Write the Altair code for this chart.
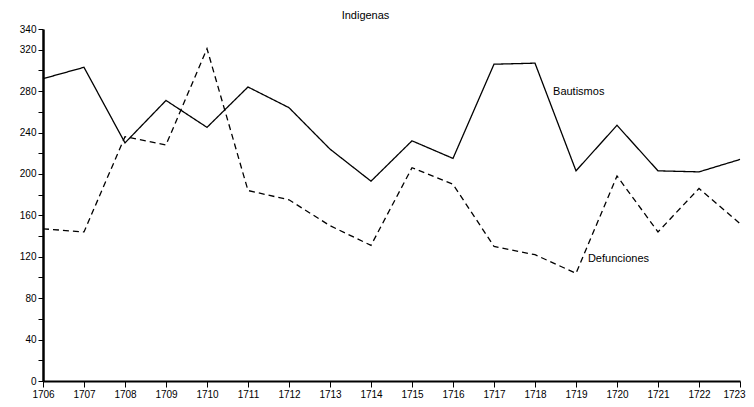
import altair as alt
import pandas as pd

years = list(range(1706, 1724))
bautismos = [292, 303, 230, 271, 245, 284, 264, 224, 193, 232, 215, 306, 307, 203, 247, 203, 202, 214]
defunciones = [147, 144, 236, 228, 321, 184, 175, 150, 131, 206, 190, 130, 122, 104, 198, 144, 186, 152]
y_ticks = list(range(0, 341, 20))
y_labels = [0, 40, 80, 120, 160, 200, 240, 280, 320, 340]

df = pd.DataFrame({
    "year": years * 2,
    "value": bautismos + defunciones,
    "serie": ["Bautismos"] * len(years) + ["Defunciones"] * len(years),
})

labels = pd.DataFrame({
    "year": [1718.44, 1719.29],
    "value": [279, 118],
    "text": ["Bautismos", "Defunciones"],
})

FONT = "Liberation Sans"
label_list = "[" + ",".join(str(v) for v in y_labels) + "]"

x = alt.X("year:Q", scale=alt.Scale(domain=[1706, 1723], nice=False, zero=False),
          axis=alt.Axis(values=years, format="d", title=None, grid=False, tickCount=100,
                        domainColor="black", domainWidth=2, tickColor="black",
                        tickSize=6, tickWidth=1, labelColor="black", labelFontSize=10,
                        labelFont=FONT, labelPadding=2, labelFlush=False,
                        labelOverlap=False,
                        labelOffset={"condition": {"test": "datum.value == 1723", "value": -6},
                                     "value": 0}))
y = alt.Y("value:Q", scale=alt.Scale(domain=[0, 340], nice=False),
          axis=alt.Axis(values=y_ticks, title=None, grid=False, tickCount=100,
                        labelExpr=f"indexof({label_list}, round(datum.value)) >= 0 ? datum.label : ''",
                        domainColor="black", domainWidth=2.5, tickColor="black",
                        tickSize=5, tickWidth=1, labelColor="black", labelFontSize=10,
                        labelFont=FONT, labelPadding=2, labelOverlap=False,
                        labelFlush=False, labelBound=False))

lines = alt.Chart(df).mark_line(color="black", strokeWidth=1.3).encode(
    x=x, y=y,
    detail="serie:N",
    strokeDash=alt.StrokeDash("serie:N", scale=alt.Scale(domain=["Bautismos", "Defunciones"],
                                                          range=[[1, 0], [6, 4]]), legend=None),
)

text = alt.Chart(labels).mark_text(align="left", baseline="middle", fontSize=11,
                                   font=FONT, color="black").encode(
    x="year:Q", y="value:Q", text="text:N")

chart = (lines + text).properties(
    width=697, height=352,
    title=alt.TitleParams("Indigenas", fontSize=11, font=FONT, fontWeight="normal",
                          color="black", anchor="middle", dx=-26, offset=3),
    autosize=alt.AutoSizeParams(type="none"),
    padding={"left": 35, "top": 21, "right": 6, "bottom": 20},
).configure_view(stroke=None)

chart.save("out.html", embed_options={"renderer": "svg", "actions": False})
